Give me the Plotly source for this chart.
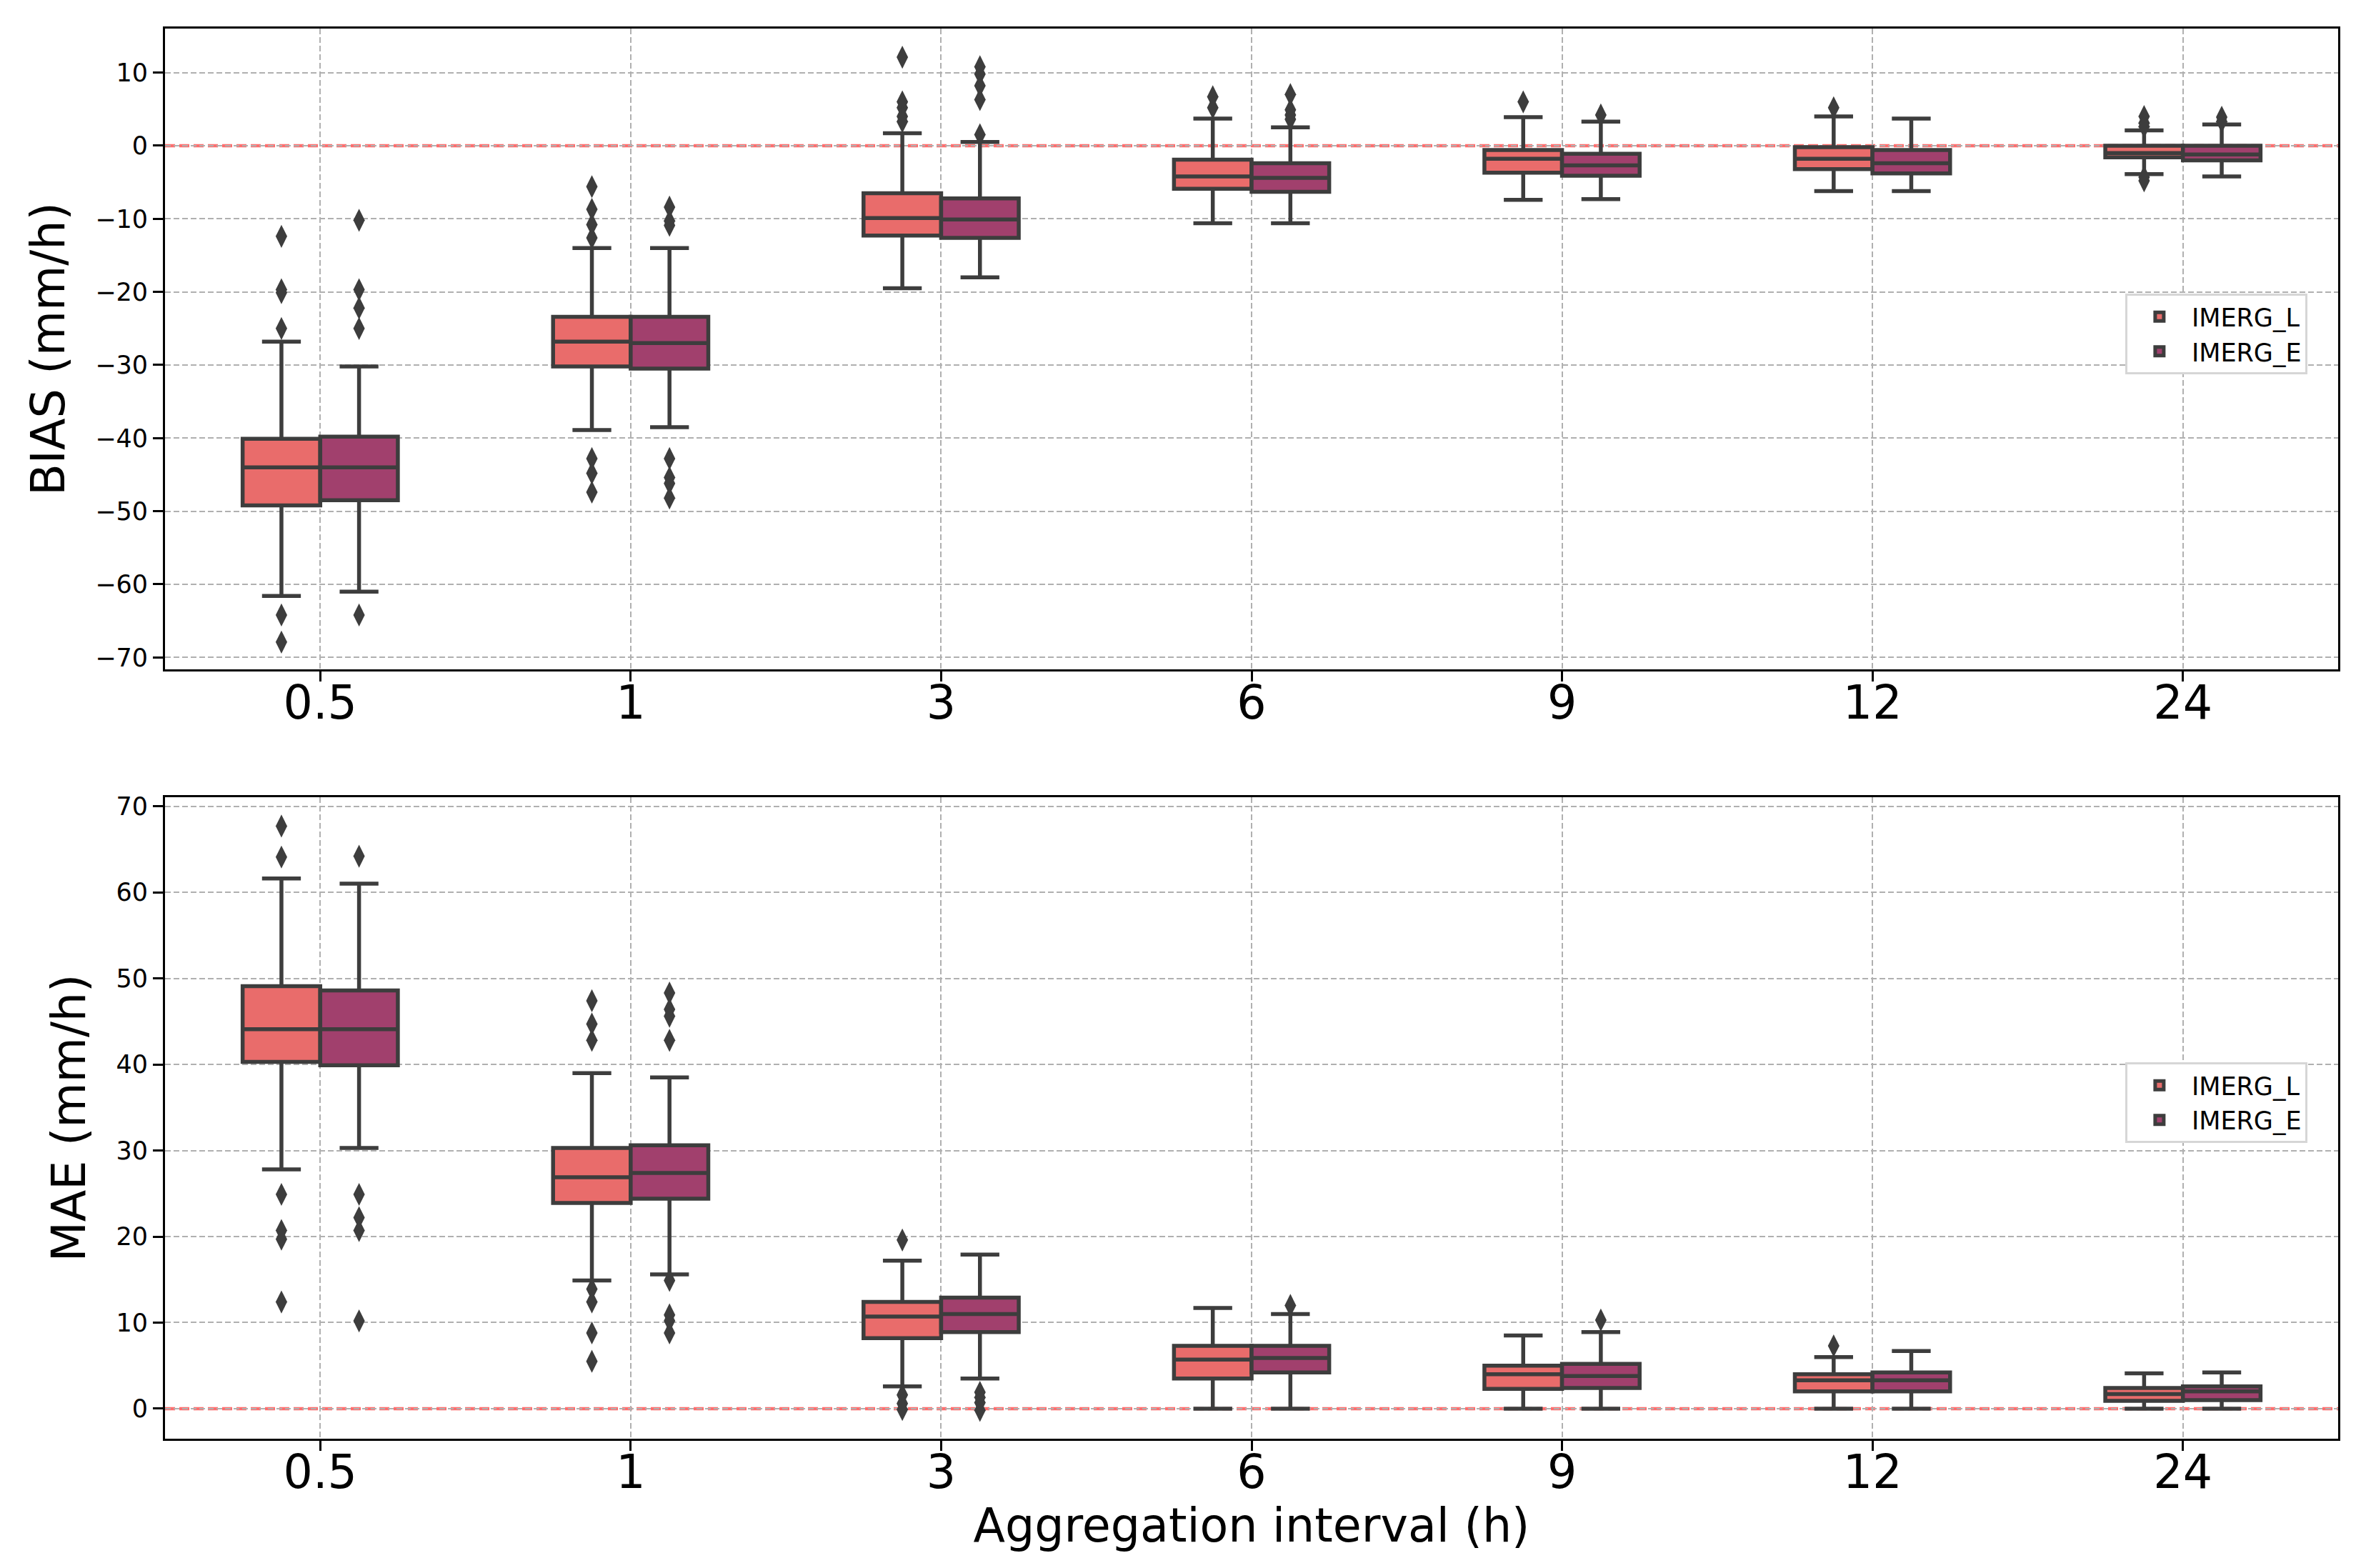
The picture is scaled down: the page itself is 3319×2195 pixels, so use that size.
import plotly.graph_objects as go

# aggregation intervals (h) shown on the x axis
intervals = ['0.5', '1', '3', '6', '9', '12', '24']

# ---- BIAS (mm/h) ----
bias_l_low = [-61.6, -38.9, -19.5, -10.6, -7.4, -6.2, -3.9]
bias_l_q1 = [-49.2, -30.2, -12.3, -5.9, -3.7, -3.2, -1.6]
bias_l_med = [-44.0, -26.8, -9.9, -4.2, -1.8, -1.8, -1.0]
bias_l_q3 = [-40.1, -23.4, -6.5, -1.9, -0.6, -0.2, 0.0]
bias_l_high = [-26.8, -14.0, 1.7, 3.7, 3.9, 4.0, 2.1]
bias_l_out = [[-12.4, -19.7, -20.1, -25.0, -64.2, -67.9],
              [-5.6, -8.7, -10.8, -12.6, -42.8, -44.8, -47.4],
              [12.1, 6.0, 5.2, 4.0, 3.3],
              [6.7, 5.2],
              [6.0],
              [5.2],
              [4.0, 3.1, 2.6, -4.3, -4.8]]

bias_e_low = [-61.0, -38.5, -18.0, -10.6, -7.3, -6.2, -4.2]
bias_e_q1 = [-48.5, -30.5, -12.6, -6.3, -4.1, -3.8, -2.0]
bias_e_med = [-44.0, -27.0, -10.1, -4.4, -2.7, -2.4, -1.2]
bias_e_q3 = [-39.8, -23.4, -7.2, -2.4, -1.1, -0.6, 0.0]
bias_e_high = [-30.2, -14.0, 0.5, 2.5, 3.3, 3.7, 2.9]
bias_e_out = [[-10.2, -19.7, -22.2, -25.0, -64.2],
              [-8.4, -10.3, -10.9, -42.8, -45.4, -46.2, -48.2],
              [10.8, 9.8, 8.2, 6.3, 1.5],
              [7.0, 4.9, 4.2, 3.6],
              [4.2],
              [],
              [3.9, 3.3]]

# ---- MAE (mm/h) ----
mae_l_low = [27.8, 14.9, 2.6, 0.0, 0.0, 0.0, 0.0]
mae_l_q1 = [40.3, 23.9, 8.2, 3.5, 2.3, 2.0, 0.9]
mae_l_med = [44.1, 26.9, 10.7, 5.7, 4.0, 3.3, 1.7]
mae_l_q3 = [49.1, 30.3, 12.4, 7.3, 5.0, 4.0, 2.4]
mae_l_high = [61.6, 39.0, 17.2, 11.7, 8.5, 6.0, 4.1]
mae_l_out = [[67.7, 64.1, 24.9, 20.7, 19.7, 12.4],
             [47.4, 44.7, 42.8, 13.9, 12.4, 8.8, 5.5],
             [19.6, 1.6, 0.6, -0.1],
             [],
             [],
             [7.3],
             []]

mae_e_low = [30.3, 15.6, 3.5, 0.0, 0.0, 0.0, 0.0]
mae_e_q1 = [39.9, 24.4, 8.9, 4.2, 2.4, 2.0, 1.0]
mae_e_med = [44.1, 27.4, 11.0, 5.9, 3.8, 3.3, 2.0]
mae_e_q3 = [48.6, 30.6, 12.9, 7.3, 5.2, 4.2, 2.6]
mae_e_high = [61.0, 38.5, 17.9, 11.0, 8.9, 6.7, 4.2]
mae_e_out = [[64.2, 24.9, 22.2, 20.7, 10.2],
             [48.3, 46.4, 45.6, 42.8, 14.9, 10.9, 10.2, 8.8],
             [1.9, 1.3, 0.7, -0.2],
             [12.0],
             [10.3],
             [],
             []]

COL_L = '#e96c6b'
COL_E = '#a1406d'
EDGE = '#3d3d3d'
FONT = 'DejaVu Sans'


def add_group(fig, low, q1, med, q3, high, outs, name, color, offset, xa, ya, leg):
    pos = [i + offset for i in range(len(intervals))]
    fig.add_trace(go.Box(x=pos, lowerfence=low, q1=q1, median=med, q3=q3, upperfence=high,
                         width=0.25, whiskerwidth=0.5, fillcolor=color,
                         line=dict(color=EDGE, width=5.5), boxpoints=False,
                         name=name, legend=leg, xaxis=xa, yaxis=ya))
    ox, oy = [], []
    for i, vals in enumerate(outs):
        ox += [i + offset] * len(vals)
        oy += vals
    fig.add_trace(go.Scatter(x=ox, y=oy, mode='markers', showlegend=False,
                             marker=dict(symbol='diamond-tall', size=23, color=EDGE,
                                         line=dict(width=0)),
                             xaxis=xa, yaxis=ya))


fig = go.Figure()
add_group(fig, bias_l_low, bias_l_q1, bias_l_med, bias_l_q3, bias_l_high, bias_l_out,
          'IMERG_L', COL_L, -0.125, 'x', 'y', 'legend')
add_group(fig, bias_e_low, bias_e_q1, bias_e_med, bias_e_q3, bias_e_high, bias_e_out,
          'IMERG_E', COL_E, 0.125, 'x', 'y', 'legend')
add_group(fig, mae_l_low, mae_l_q1, mae_l_med, mae_l_q3, mae_l_high, mae_l_out,
          'IMERG_L', COL_L, -0.125, 'x2', 'y2', 'legend2')
add_group(fig, mae_e_low, mae_e_q1, mae_e_med, mae_e_q3, mae_e_high, mae_e_out,
          'IMERG_E', COL_E, 0.125, 'x2', 'y2', 'legend2')

# red dashed zero reference line in both panels
for xr, yr in [('x domain', 'y'), ('x2 domain', 'y2')]:
    fig.add_shape(type='line', xref=xr, yref=yr, x0=0, x1=1, y0=0, y1=0, layer='below',
                  line=dict(color='#ff6e6e', width=4.5, dash='14px,6px'))

grid = dict(showgrid=True, gridcolor='#b0b0b0', gridwidth=2, griddash='8px,4px',
            showline=True, linecolor='black', linewidth=3, mirror=True,
            ticks='outside', ticklen=14, tickwidth=3, tickcolor='black',
            zeroline=False, automargin=False)

xcommon = dict(grid, range=[-0.5, 6.5], tickmode='array',
               tickvals=list(range(len(intervals))), ticktext=intervals,
               ticklabelstandoff=-26,
               tickfont=dict(size=65, family=FONT, color='black'))

legend_style = dict(xanchor='left', yanchor='top', bgcolor='white',
                    bordercolor='#d6d6d6', borderwidth=3, itemwidth=80,
                    font=dict(size=35, family=FONT))

fig.update_layout(
    width=3319, height=2195,
    margin=dict(l=223, r=54, t=32, b=189),
    paper_bgcolor='white', plot_bgcolor='white',
    font=dict(family=FONT, color='black'),
    showlegend=True,
    xaxis=dict(xcommon, domain=[0, 1], anchor='y'),
    xaxis2=dict(xcommon, domain=[0, 1], anchor='y2',
                title=dict(text='Aggregation interval (h)', standoff=0,
                           font=dict(size=65, family=FONT))),
    yaxis=dict(grid, domain=[0.5456, 1], anchor='x', range=[-71.63, 16.02],
               tick0=0, dtick=10, tickfont=dict(size=35, family=FONT),
               title=dict(text='BIAS (mm/h)', standoff=22, font=dict(size=65, family=FONT))),
    yaxis2=dict(grid, domain=[0, 0.4549], anchor='x2', range=[-3.49, 71.05],
                tick0=0, dtick=10, tickfont=dict(size=35, family=FONT),
                title=dict(text='MAE (mm/h)', standoff=22, font=dict(size=65, family=FONT))),
    legend=dict(legend_style, x=0.902, y=0.812),
    legend2=dict(legend_style, x=0.902, y=0.267),
)

fig.write_html('out.html')
